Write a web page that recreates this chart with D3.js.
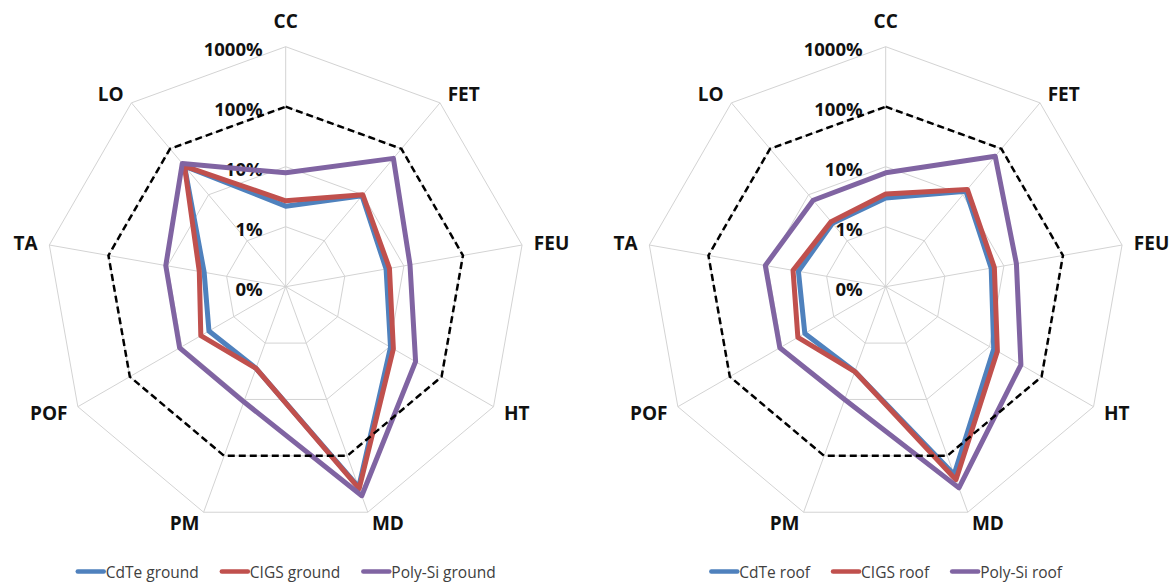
<!DOCTYPE html>
<html>
<head>
<meta charset="utf-8">
<script src="https://cdn.jsdelivr.net/npm/d3@7"></script>
<style>
  html, body { margin: 0; padding: 0; background: #ffffff; }
  svg { display: block; }
</style>
</head>
<body>
<svg id="chart" width="1176" height="582"></svg>
<script>
// ---- Data (fractions: 1 = 100%) ----
const categories = ["CC", "FET", "FEU", "HT", "MD", "PM", "POF", "TA", "LO"];
const tickValues = [0.001, 0.01, 0.1, 1, 10];
const referenceLine = [1, 1, 1, 1, 1, 1, 1, 1, 1];

const cdteGround   = [0.022, 0.095, 0.050, 0.104, 3.6, 0.028, 0.030, 0.024, 0.42];
const cigsGround   = [0.027, 0.100, 0.057, 0.118, 3.8, 0.028, 0.043, 0.029, 0.42];
const polySiGround = [0.079, 0.62,  0.127, 0.316, 5.1, 0.11,  0.11,  0.107, 0.48];

const cdteRoof   = [0.030, 0.120, 0.061, 0.120, 2.15, 0.032, 0.036, 0.030, 0.024];
const cigsRoof   = [0.035, 0.131, 0.069, 0.141, 2.65, 0.032, 0.049, 0.037, 0.026];
const polySiRoof = [0.079, 0.69,  0.163, 0.40,  3.7,  0.10,  0.109, 0.109, 0.076];

const groundNames = ["CdTe ground", "CIGS ground", "Poly-Si ground"];
const roofNames   = ["CdTe roof", "CIGS roof", "Poly-Si roof"];
const colors = ["#4F81BD", "#C0504D", "#8064A2"];

// ---- Layout ----
const svg = d3.select("#chart");
const R = 240;
const n = categories.length;
const r = d3.scaleLog().domain([0.001, 10]).range([0, R]);
const fmt = d3.format(".0%");
const angle = i => i * 2 * Math.PI / n;

const charts = [
  { cx: 285.7, cy: 286.7, names: groundNames, data: [cdteGround, cigsGround, polySiGround], legendY: 571.5 },
  { cx: 885.7, cy: 286.7, names: roofNames,   data: [cdteRoof, cigsRoof, polySiRoof],       legendY: 571.5 }
];

const line = d3.lineRadial()
  .angle((d, i) => angle(i))
  .radius(d => r(d))
  .curve(d3.curveLinearClosed);

charts.forEach(c => {
  const g = svg.append("g").attr("transform", `translate(${c.cx},${c.cy})`);

  // rings
  tickValues.slice(1).forEach(t => {
    g.append("path")
      .attr("d", line(categories.map(() => t)))
      .attr("fill", "none")
      .attr("stroke", "#d3d3d3")
      .attr("stroke-width", 1);
  });
  // spokes
  categories.forEach((cat, i) => {
    const a = angle(i);
    g.append("line")
      .attr("x1", 0).attr("y1", 0)
      .attr("x2", r(10) * Math.sin(a)).attr("y2", -r(10) * Math.cos(a))
      .attr("stroke", "#d3d3d3")
      .attr("stroke-width", 1);
  });

  // tick labels
  tickValues.forEach(t => {
    g.append("text")
      .attr("x", -23)
      .attr("y", -r(t) + 1.7)
      .attr("text-anchor", "end")
      .attr("dominant-baseline", "central")
      .attr("font-family", "'Open Sans', sans-serif")
      .attr("font-weight", 700)
      .attr("font-size", 18.5)
      .attr("fill", "#111111")
      .text(fmt(t));
  });

  // category labels
  categories.forEach((cat, i) => {
    const a = angle(i);
    const s = Math.sin(a), co = Math.cos(a);
    const lr = 252;
    let anchor = "middle";
    if (s > 0.01) anchor = "start";
    else if (s < -0.01) anchor = "end";
    const dy = (Math.abs(s) < 0.01 && co > 0) ? -14 : 0;
    g.append("text")
      .attr("x", lr * s)
      .attr("y", -lr * co + dy)
      .attr("text-anchor", anchor)
      .attr("dominant-baseline", "central")
      .attr("font-family", "'Open Sans', sans-serif")
      .attr("font-weight", 700)
      .attr("font-size", 19)
      .attr("fill", "#111111")
      .text(cat);
  });

  // series
  c.data.forEach((vals, k) => {
    g.append("path")
      .attr("d", line(vals))
      .attr("fill", "none")
      .attr("stroke", colors[k])
      .attr("stroke-width", 5)
      .attr("stroke-linejoin", "round");
  });

  // 100% reference dashed line
  g.append("path")
    .attr("d", line(referenceLine))
    .attr("fill", "none")
    .attr("stroke", "#000000")
    .attr("stroke-width", 2.5)
    .attr("stroke-dasharray", "7,4");

  // legend
  const lg = svg.append("g");
  let x = 0;
  c.names.forEach((name, k) => {
    const ig = lg.append("g").attr("transform", `translate(${x},0)`);
    ig.append("line")
      .attr("x1", 2).attr("x2", 28)
      .attr("y1", c.legendY).attr("y2", c.legendY)
      .attr("stroke", colors[k])
      .attr("stroke-width", 4.5)
      .attr("stroke-linecap", "round");
    const t = ig.append("text")
      .attr("x", 30)
      .attr("y", c.legendY)
      .attr("dominant-baseline", "central")
      .attr("font-family", "'Open Sans', sans-serif")
      .attr("font-size", 15.5)
      .attr("fill", "#404040")
      .text(name);
    const w = t.node().getComputedTextLength();
    x += 30 + w + (k < c.names.length - 1 ? 21 : 0);
  });
  lg.attr("transform", `translate(${c.cx - x / 2},0)`);
});
</script>
</body>
</html>
